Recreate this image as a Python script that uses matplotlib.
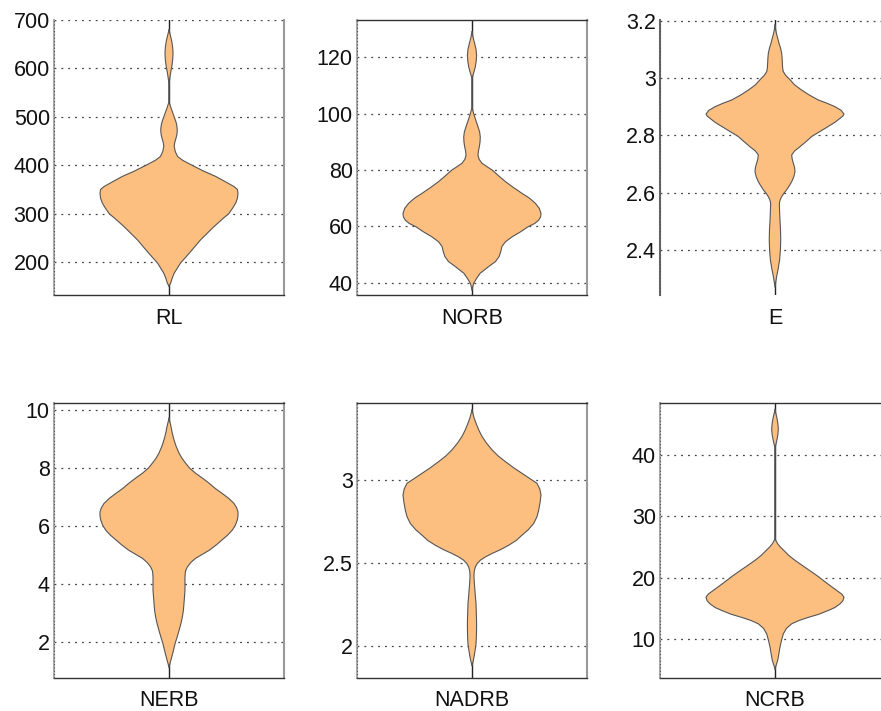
"""
Violin plots of six roughness / branching metrics (2x3 grid).
Shapes are drawn from half-width profiles read off the original figure.
Output: out.png
"""
import matplotlib
matplotlib.use('Agg')
import matplotlib.pyplot as plt

plt.rcParams['font.family'] = ['Liberation Sans', 'DejaVu Sans']

# --- data: (value, half-width) profiles for each violin -------------------
labels = ['RL', 'NORB', 'E', 'NERB', 'NADRB', 'NCRB']

rl_y = [150, 157, 167, 177, 198, 218, 246, 273, 290, 300, 312, 322, 332, 342,
        350, 356, 366, 377, 388, 400, 410, 418, 428, 439, 447, 455, 464, 473,
        482, 490, 500, 510, 520, 531, 565, 575, 585, 595, 605, 618, 631, 643,
        655, 663, 670, 680]
rl_w = [0, 0.015, 0.028, 0.045, 0.10, 0.175, 0.275, 0.39, 0.47, 0.52, 0.555, 0.58,
        0.595, 0.60, 0.595, 0.565, 0.49, 0.405, 0.30, 0.20, 0.12, 0.075, 0.055,
        0.045, 0.05, 0.06, 0.069, 0.072, 0.068, 0.06, 0.045, 0.03, 0.015, 0,
        0, 0.004, 0.01, 0.017, 0.025, 0.032, 0.035, 0.032, 0.025, 0.017, 0.01, 0]

norb_y = [37.4, 38.5, 39.8, 41.5, 43.3, 45.7, 47.5, 49.2, 51.0, 52.8, 54.5, 56.3,
          58.0, 59.9, 61.0, 62.2, 63.4, 64.6, 66.4, 68.2, 70.0, 71.7, 73.8, 75.9,
          78.0, 80.0, 81.2, 82.4, 83.8, 85.3, 86.8, 88.3, 90.0, 91.8, 93.6, 95.4,
          97.1, 98.9, 100.7, 102.5, 112.5, 114.6, 116.7, 118.8, 120.8, 122.9,
          125.0, 127.0, 129.1]
norb_w = [0, 0.006, 0.015, 0.04, 0.07, 0.145, 0.205, 0.235, 0.25, 0.26, 0.29, 0.35,
          0.42, 0.49, 0.545, 0.58, 0.597, 0.60, 0.585, 0.55, 0.5, 0.435, 0.36, 0.29,
          0.23, 0.175, 0.13, 0.087, 0.062, 0.052, 0.056, 0.064, 0.07, 0.072, 0.066,
          0.052, 0.038, 0.023, 0.01, 0, 0, 0.015, 0.029, 0.037, 0.04, 0.035, 0.023,
          0.01, 0]

e_y = [2.272, 2.290, 2.307, 2.335, 2.365, 2.400, 2.435, 2.470, 2.505, 2.535,
       2.563, 2.575, 2.586, 2.598, 2.609, 2.624, 2.638, 2.655, 2.673, 2.688,
       2.702, 2.716, 2.731, 2.745, 2.760, 2.778, 2.796, 2.813, 2.830, 2.845,
       2.859, 2.867, 2.874, 2.887, 2.900, 2.912, 2.923, 2.940, 2.958, 2.976,
       2.994, 3.008, 3.022, 3.036, 3.051, 3.068, 3.086, 3.104, 3.121, 3.139,
       3.156, 3.170, 3.185]
e_w = [0, 0.007, 0.014, 0.028, 0.04, 0.047, 0.05, 0.048, 0.043, 0.04, 0.038, 0.045,
       0.058, 0.078, 0.10, 0.124, 0.145, 0.163, 0.174, 0.17, 0.16, 0.15, 0.145,
       0.17, 0.217, 0.27, 0.32, 0.39, 0.46, 0.52, 0.565, 0.59, 0.60, 0.575, 0.52,
       0.45, 0.377, 0.30, 0.23, 0.17, 0.13, 0.095, 0.072, 0.066, 0.064, 0.062,
       0.058, 0.048, 0.035, 0.023, 0.012, 0.005, 0]

nerb_y = [1.15, 1.30, 1.49, 1.70, 1.95, 2.18, 2.41, 2.64, 2.87, 3.10, 3.33, 3.79,
          4.25, 4.45, 4.60, 4.75, 4.89, 5.03, 5.17, 5.35, 5.52, 5.69, 5.86, 6.03,
          6.21, 6.35, 6.49, 6.63, 6.78, 6.95, 7.13, 7.30, 7.47, 7.65, 7.82, 7.99,
          8.16, 8.33, 8.51, 8.74, 8.97, 9.20, 9.43, 9.57, 9.71]
nerb_w = [0, 0.01, 0.023, 0.037, 0.052, 0.07, 0.087, 0.103, 0.116, 0.125, 0.13,
          0.139, 0.139, 0.143, 0.16, 0.19, 0.23, 0.29, 0.35, 0.41, 0.46, 0.51, 0.55,
          0.577, 0.594, 0.60, 0.60, 0.588, 0.565, 0.52, 0.46, 0.40, 0.35, 0.29, 0.23,
          0.18, 0.145, 0.113, 0.087, 0.062, 0.043, 0.028, 0.017, 0.008, 0]

nadrb_y = [1.879, 1.900, 1.929, 1.970, 2.010, 2.070, 2.131, 2.190, 2.253, 2.300,
           2.354, 2.390, 2.424, 2.450, 2.475, 2.495, 2.515, 2.535, 2.556, 2.580,
           2.606, 2.635, 2.667, 2.700, 2.737, 2.778, 2.818, 2.865, 2.909, 2.945,
           2.980, 3.010, 3.040, 3.075, 3.111, 3.145, 3.182, 3.222, 3.263, 3.303,
           3.343, 3.375, 3.404, 3.424]
nadrb_w = [0, 0.008, 0.017, 0.027, 0.035, 0.039, 0.04, 0.038, 0.035, 0.029, 0.023,
           0.019, 0.017, 0.02, 0.029, 0.045, 0.072, 0.115, 0.174, 0.25, 0.32, 0.385,
           0.435, 0.49, 0.536, 0.565, 0.58, 0.592, 0.60, 0.59, 0.565, 0.5, 0.435,
           0.36, 0.29, 0.228, 0.174, 0.127, 0.087, 0.058, 0.035, 0.018, 0.007, 0]

ncrb_y = [5.08, 5.70, 6.45, 7.50, 8.63, 9.70, 10.8, 11.7, 12.45, 13.0, 13.5, 14.0,
          14.6, 15.1, 15.7, 16.2, 16.8, 17.3, 17.9, 18.6, 19.3, 20.1, 20.9, 21.8,
          22.8, 23.6, 24.5, 25.0, 25.5, 26.0, 26.4, 41.1, 41.8, 42.5, 43.3, 44.2,
          45.1, 46.0, 46.7, 47.4]
ncrb_w = [0, 0.01, 0.023, 0.033, 0.043, 0.056, 0.072, 0.1, 0.145, 0.21, 0.29, 0.38,
          0.46, 0.52, 0.565, 0.59, 0.60, 0.58, 0.536, 0.485, 0.435, 0.38, 0.32, 0.25,
          0.174, 0.12, 0.072, 0.045, 0.023, 0.008, 0, 0, 0.009, 0.017, 0.025, 0.029,
          0.025, 0.017, 0.008, 0]

profiles = [(rl_y, rl_w), (norb_y, norb_w), (e_y, e_w),
            (nerb_y, nerb_w), (nadrb_y, nadrb_w), (ncrb_y, ncrb_w)]

ylims = [(132, 700), (35.6, 133.3), (2.243, 3.202),
         (0.78, 10.23), (1.804, 3.465), (3.61, 48.46)]
yticks = [[200, 300, 400, 500, 600, 700],
          [40, 60, 80, 100, 120],
          [2.4, 2.6, 2.8, 3.0, 3.2],
          [2, 4, 6, 8, 10],
          [2, 2.5, 3],
          [10, 20, 30, 40]]
ytick_labels = [['200', '300', '400', '500', '600', '700'],
                ['40', '60', '80', '100', '120'],
                ['2.4', '2.6', '2.8', '3', '3.2'],
                ['2', '4', '6', '8', '10'],
                ['2', '2.5', '3'],
                ['10', '20', '30', '40']]

# --- layout (pixels in an 881x711 canvas) ---------------------------------
W, H = 881, 711
lefts = [54, 357, 660]
tops = [20, 403]
aw, ah = 230, 275

fill_color = '#FDBF80'
edge_color = '#555555'

fig = plt.figure(figsize=(W / 100, H / 100), dpi=100)

for i, (label, (ys, ws)) in enumerate(zip(labels, profiles)):
    row, col = divmod(i, 3)
    ax = fig.add_axes([lefts[col] / W, 1 - (tops[row] + ah) / H, aw / W, ah / H])
    ax.set_xlim(-1, 1)
    ax.set_ylim(*ylims[i])

    # grid
    for t in yticks[i]:
        ax.axhline(t, color='#444444', lw=0.9, ls=(0, (1.5, 4)), zorder=1)

    # centre whisker line across the data range
    ax.axvline(0, color='#222222', lw=1.0, zorder=2)

    # violin body
    neg = [-w for w in ws]
    ax.fill_betweenx(ys, neg, ws, facecolor=fill_color, edgecolor='none', zorder=3)
    ax.plot(ws, ys, color=edge_color, lw=0.8, zorder=4)
    ax.plot(neg, ys, color=edge_color, lw=0.8, zorder=4)

    ax.set_yticks(yticks[i])
    ax.set_yticklabels(ytick_labels[i])
    ax.set_xticks([0])
    ax.set_xticklabels([label])
    ax.tick_params(axis='both', length=0, labelsize=15.5, colors='#111111', pad=3)
    ax.tick_params(axis='x', pad=9)

    for side in ['top', 'right', 'bottom']:
        ax.spines[side].set_color('#333333')
        ax.spines[side].set_linewidth(1.0)
    ax.spines['right'].set_color('#999999')
    ax.spines['right'].set_linewidth(1.5)
    ax.spines['left'].set_color('#aaaaaa')
    ax.spines['left'].set_linewidth(1.5)
    ax.axvline(-1, color='#555555', lw=0.8, ls=(0, (1, 2)), zorder=5, clip_on=False)

    if label == 'RL':
        ax.spines['top'].set_visible(False)
    if label == 'E':
        ax.spines['top'].set_visible(False)
        ax.spines['bottom'].set_visible(False)
        ax.spines['right'].set_visible(False)
        ax.spines['left'].set_color('#666666')

fig.savefig('out.png', dpi=100)
